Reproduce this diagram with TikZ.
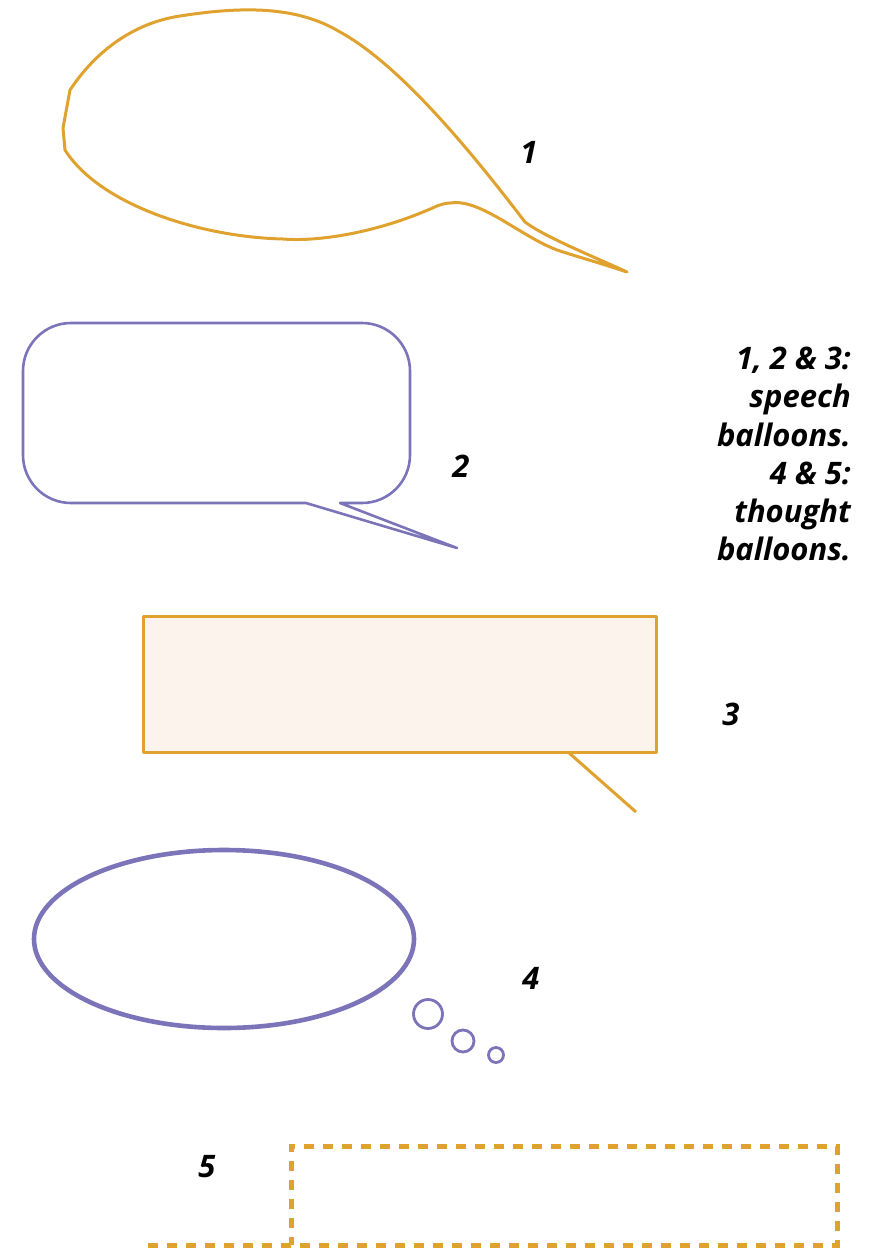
\documentclass[tikz,border=0pt]{standalone}
\usepackage{fontspec}
\setmainfont{Open Sans}
\definecolor{gold}{HTML}{E0A22E}
\definecolor{lav}{HTML}{7B74B8}
\definecolor{cream}{HTML}{FBF3EC}
\tikzset{
  lab/.style={font=\fontsize{31}{38.2}\selectfont\bfseries\itshape, inner sep=0pt},
  goldline/.style={draw=gold, line width=3pt, line join=round},
  lavline/.style={draw=lav, line width=2.6pt, line join=round},
}
\begin{document}
\begin{tikzpicture}[x=1pt,y=-1pt]
\useasboundingbox (0,0) rectangle (872,1248);
% balloon 1
\draw[goldline] (65,150) -- (63,128) -- (70,90)
  .. controls (100,45) and (140,22) .. (180,16)
  .. controls (250,5) and (300,8) .. (340,32)
  .. controls (400,65) and (470,150) .. (525,222)
  .. controls (545,237) and (590,255) .. (627,272)
  .. controls (600,263) and (575,256) .. (557,250)
  .. controls (520,236) and (480,198) .. (450,203)
  .. controls (445,203) and (440,205) .. (437,206)
  .. controls (380,232) and (320,242) .. (283,239)
  .. controls (200,237) and (100,205) .. (65,150) -- cycle;
\node[lab] (n1) at (529,152) {1};
% balloon 2
\draw[lavline] (306,503) -- (71,503)
  arc[start angle=90, end angle=180, radius=48] -- (23,371)
  arc[start angle=180, end angle=270, radius=48] -- (362,323)
  arc[start angle=270, end angle=360, radius=48] -- (410,455)
  arc[start angle=0, end angle=90, radius=48] -- (340,503) -- (457,548) -- cycle;
\node[lab] (n2) at (461,466) {2};
% text block
\node[lab, anchor=north east, align=right] (txt) at (851,347)
  {1, 2 \& 3:\\speech\\balloons.\\4 \& 5:\\thought\\balloons.};
% balloon 3
\draw[goldline, fill=cream] (143,616) rectangle (656,752);
\coordinate (t3a) at (568,752);
\coordinate (t3b) at (636,812);
\draw[goldline] (t3a) -- (t3b);
\node[lab] (n3) at (731,714) {3};
% balloon 4
\draw[draw=lav, line width=4.6pt] (224,939) ellipse[x radius=190, y radius=89];
\draw[draw=lav, line width=2.8pt] (428,1014) circle[radius=14.5];
\draw[draw=lav, line width=2.8pt] (463,1041) circle[radius=11];
\draw[draw=lav, line width=2.8pt] (496,1055) circle[radius=7.5];
\node[lab] (n4) at (531,978) {4};
% balloon 5
\draw[draw=gold, line width=5pt, dash pattern=on 10pt off 9pt]
  (148,1245) -- (837,1245) -- (837,1146) -- (291,1146) -- (291,1245);
\node[lab] (n5) at (207,1167) {5};
\end{tikzpicture}
\end{document}
